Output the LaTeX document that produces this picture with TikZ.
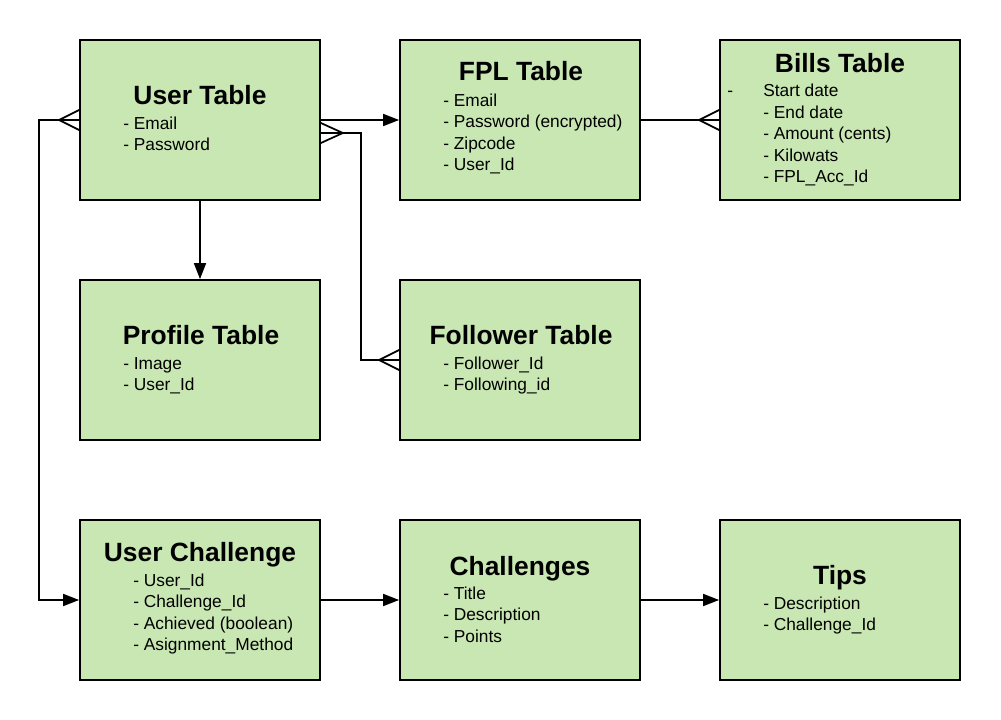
\documentclass[tikz,border=0pt]{standalone}
\usepackage{fontspec}
\setmainfont{Liberation Sans}
\usetikzlibrary{arrows.meta, calc}

\definecolor{tablegreen}{RGB}{200,231,178}

\tikzset{
	tbl/.style = {draw, line width = 1.3pt, fill = tablegreen, minimum width = 180pt, minimum height = 120pt, inner sep = 0pt},
	title/.style = {anchor = base, inner sep = 0pt, yshift = -1.2pt, font = \bfseries\fontsize{19.8}{23}\selectfont},
	item/.style = {anchor = base west, inner sep = 0pt, yshift = -1.2pt, font = \fontsize{13}{15}\selectfont},
	link/.style = {line width = 1.3pt},
}

% crow's foot at a box side, #2 = -1 for a left side, 1 for a right side
\newcommand{\manyend}[3]{
	\draw [link] ($(#1)+(#2*#3, 0)$) -- ($(#1)+(0, -10)$)
		($(#1)+(#2*#3, 0)$) -- ($(#1)+(0, 10)$);
}

\begin{document}
\begin{tikzpicture}[x = 0.75pt, y = -0.75pt, > = {Triangle[length = 12pt, width = 9pt]}]

	\useasboundingbox (0, 0) rectangle (1001, 720);

	% Tables
	
	\node [tbl] (user) at (200, 120) {};
	\node [tbl] (fpl) at (520, 120) {};
	\node [tbl] (bills) at (840, 120) {};
	\node [tbl] (profile) at (200, 360) {};
	\node [tbl] (follower) at (520, 360) {};
	\node [tbl] (uchal) at (200, 600) {};
	\node [tbl] (chal) at (520, 600) {};
	\node [tbl] (tips) at (840, 600) {};
	
	% Titles
	
	\node [title] (user-t) at (200, 103) {User Table};
	\node [title] (fpl-t) at (521, 79) {FPL Table};
	\node [title] (bills-t) at (840, 71) {Bills Table};
	\node [title] (profile-t) at (201, 343) {Profile Table};
	\node [title] (follower-t) at (521, 343) {Follower Table};
	\node [title] (uchal-t) at (200, 560) {User Challenge};
	\node [title] (chal-t) at (520, 574) {Challenges};
	\node [title] (tips-t) at (840, 583) {Tips};
	
	% Fields
	
	\foreach \t [count = \i] in {- Email, - Password}
		\node [item] (user-\i) at (123, {128 + 21.3 * (\i - 1)}) {\t};
	
	\foreach \t [count = \i] in {- Email, - Password (encrypted), - Zipcode, - User\_Id}
		\node [item] (fpl-\i) at (443, {105 + 21.3 * (\i - 1)}) {\t};
	
	\node [item] (bills-d) at (727, 95) {-};
	\foreach \t [count = \i] in {Start date, - End date, - Amount (cents), - Kilowats, - FPL\_Acc\_Id}
		\node [item] (bills-\i) at (763, {95 + 21.6 * (\i - 1)}) {\t};
	
	\foreach \t [count = \i] in {- Image, - User\_Id}
		\node [item] (profile-\i) at (123, {368 + 21.3 * (\i - 1)}) {\t};
	
	\foreach \t [count = \i] in {- Follower\_Id, - Following\_id}
		\node [item] (follower-\i) at (443, {368 + 21.3 * (\i - 1)}) {\t};
	
	\foreach \t [count = \i] in {- User\_Id, - Challenge\_Id, - Achieved (boolean), - Asignment\_Method}
		\node [item] (uchal-\i) at (133, {585 + 21.3 * (\i - 1)}) {\t};
	
	\foreach \t [count = \i] in {- Title, - Description, - Points}
		\node [item] (chal-\i) at (443, {598 + 21.3 * (\i - 1)}) {\t};
	
	\foreach \t [count = \i] in {- Description, - Challenge\_Id}
		\node [item] (tips-\i) at (763, {608 + 21.3 * (\i - 1)}) {\t};
	
	% Links
	
	\draw [link, ->] (user.east) -- (fpl.west);
	\draw [link, ->] (user.south) -- (profile.north);
	\draw [link, ->] (uchal.east) -- (chal.west);
	\draw [link, ->] (chal.east) -- (tips.west);
	
	\draw [link] (fpl.east) -- (bills.west);
	\manyend{bills.west}{-1}{20}
	
	\draw [link, ->] (user.west) -- ++(-40, 0) |- (uchal.west);
	\manyend{user.west}{-1}{20}
	
	\coordinate (user-f) at ($(user.east) + (0, 13)$);
	\draw [link] (user-f) -- ++(40, 0) |- (follower.west);
	\manyend{user-f}{1}{22}
	\manyend{follower.west}{-1}{20}

\end{tikzpicture}
\end{document}
